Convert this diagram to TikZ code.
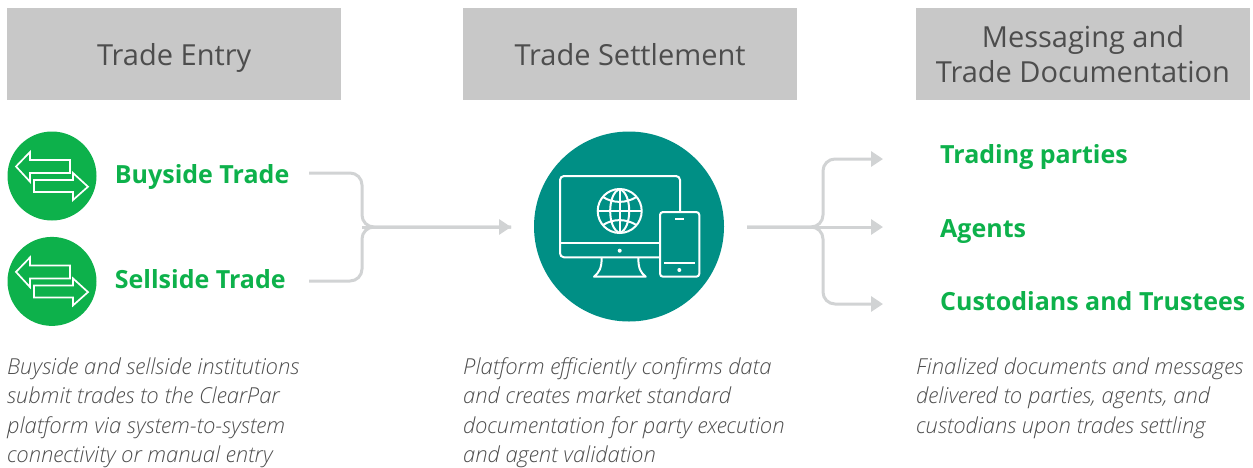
\documentclass[tikz,border=0pt]{standalone}
\usepackage{fontspec}
\setmainfont{Open Sans}
\newfontfamily\lightfont{Open Sans Light}
\usetikzlibrary{positioning, arrows.meta}
\definecolor{boxgray}{HTML}{C8C8C8}
\definecolor{flowgray}{HTML}{D1D3D4}
\definecolor{leafgreen}{HTML}{0DB14B}
\definecolor{tealgreen}{HTML}{008F85}
\definecolor{inkgray}{HTML}{4D4D4D}

\begin{document}
\begin{tikzpicture}[
		x=1pt, y=-1pt,
		header/.style={rectangle, fill=boxgray, inner sep=0pt, minimum width=334pt, minimum height=92pt, align=center, text=inkgray, font=\fontsize{29}{35}\selectfont},
		tradeicon/.style={circle, fill=leafgreen, inner sep=0pt, minimum size=89pt},
		platform/.style={circle, fill=tealgreen, inner sep=0pt, minimum size=190pt},
		party/.style={inner sep=0pt, text height=20pt, text depth=6pt, text=leafgreen, font=\bfseries\fontsize{25}{32}\selectfont},
		blurb/.style={inner sep=0pt, align=left, anchor=north west, text=inkgray, font=\lightfont\itshape\fontsize{22}{29.4}\selectfont},
		flow/.style={draw=flowgray, line width=3pt, rounded corners=12pt},
		flowhead/.style={-{Triangle[length=12pt, width=15pt]}},
		glyph/.style={draw=white, line width=2pt},
		swap/.pic={
			\draw[glyph, line width=1.7pt] (18,-3) -- (18,-16) -- (-22,-16) -- (-22,-24) -- (-36,-9.5) -- (-22,5.7) -- (-22,-3) -- cycle;
			\draw[glyph, line width=1.7pt] (-18,4) -- (21,4) -- (21,-3) -- (36,10.7) -- (21,24) -- (21,16) -- (-18,16) -- cycle;
		},
		screens/.pic={
			\draw[glyph, rounded corners=4pt] (51,-14.8) -- (51,-50.5) -- (-69,-50.5) -- (-69,30.8) -- (31,30.8);
			\draw[glyph] (-69,16.8) -- (31,16.8);
			\fill[white] (-9.3,24.2) circle (2pt);
			\draw[glyph, line join=round] (-27.3,30.8) .. controls (-27.3,42) and (-30,46) .. (-35,50.2) -- (16.7,50.2) .. controls (11.5,46) and (9.3,42) .. (9.3,30.8);
			\draw[glyph, rounded corners=3pt] (31,-14.5) rectangle (70.3,50.2);
			\draw[glyph] (46.3,-7.8) -- (55,-7.8);
			\draw[glyph] (35,36.8) -- (66.3,36.8);
			\fill[white] (50.3,43.5) circle (2pt);
			\draw[glyph] (-9.3,-15.5) circle (22);
			\draw[glyph] (-9.3,-37.5) -- (-9.3,6.5);
			\draw[glyph] (-31.3,-15.5) -- (12.7,-15.5);
			\draw[glyph] (-9.3,-37.5) .. controls (-22,-33) and (-22,2) .. (-9.3,6.5);
			\draw[glyph] (-9.3,-37.5) .. controls (3.4,-33) and (3.4,2) .. (-9.3,6.5);
			\draw[glyph] (-26,-29.5) .. controls (-16,-23) and (-3,-23) .. (7.4,-29.5);
			\draw[glyph] (-26,-1.5) .. controls (-16,-8) and (-3,-8) .. (7.4,-1.5);
		}
	]

	\useasboundingbox (0,0) rectangle (1253,467);

	\node[header, anchor=north west, text depth=0pt] (entry) at (7,8) {Trade Entry};
	\node[header, right=121.5pt of entry] (settle) {Trade Settlement};
	\node[header, right=118.5pt of settle] (docs) {Messaging and\\Trade Documentation};

	\node[tradeicon] (buyicon) at (52,176) {};
	\node[tradeicon, below=16pt of buyicon] (sellicon) {};
	\node[party, right=18pt of buyicon] (buy) {Buyside Trade};
	\node[party, right=18pt of sellicon] (sell) {Sellside Trade};
	\pic at (buyicon) {swap};
	\pic at (sellicon) {swap};

	\node[platform] (hub) at (629,226.5) {};
	\pic at (hub) {screens};

	\node[party, anchor=west] (parties) at (940,156.3) {Trading parties};
	\node[party, anchor=west] (agents) at (940,230.3) {Agents};
	\node[party, anchor=west] (custodians) at (940,303) {Custodians and Trustees};

	\node[blurb] (entrytext) at (7,357.5) {Buyside and sellside institutions\\submit trades to the ClearPar\\platform via system-to-system\\connectivity or manual entry};
	\node[blurb] (settletext) at (463,357.5) {Platform efficiently confirms data\\and creates market standard\\documentation for party execution\\and agent validation};
	\node[blurb] (docstext) at (916,357.5) {Finalized documents and messages\\delivered to parties, agents, and\\custodians upon trades settling};

	\coordinate (buyout) at (309,173);
	\coordinate (sellout) at (309,281);
	\coordinate (joinin) at (362,227);
	\coordinate (hubin) at (511,227);
	\coordinate (hubout) at (747,227);
	\coordinate (joinout) at (823,227);
	\coordinate (partiesin) at (883,159);
	\coordinate (agentsin) at (883,227);
	\coordinate (custodiansin) at (883,304);

	\foreach \i in {buyout, sellout}
		\draw[flow] (\i) -| (joinin) -- (hubin);
	\draw[flow, flowhead] (joinin) -- (hubin);

	\foreach \j in {partiesin, custodiansin}
		\draw[flow, flowhead] (hubout) -- (joinout) |- (\j);
	\draw[flow, flowhead] (hubout) -- (agentsin);

\end{tikzpicture}
\end{document}
